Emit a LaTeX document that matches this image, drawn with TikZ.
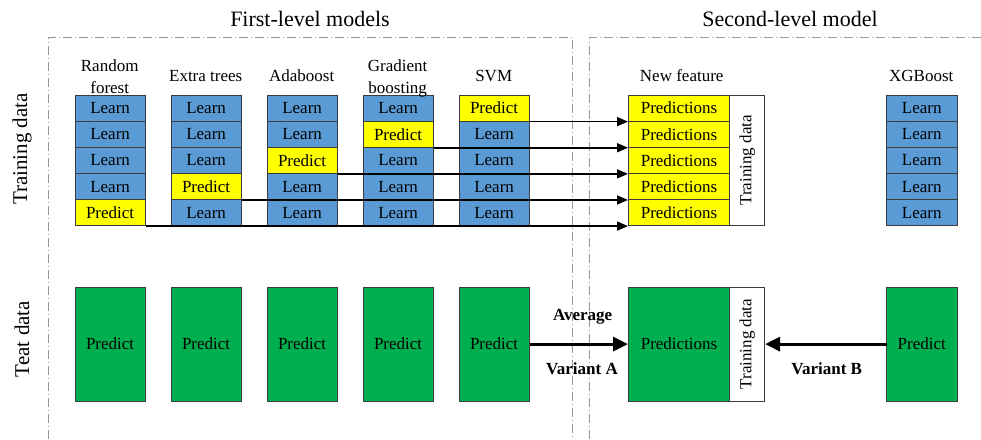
\documentclass[tikz,border=0pt]{standalone}
\usepackage{fontspec}
\setmainfont{Liberation Serif}
\usetikzlibrary{arrows.meta}
\definecolor{learnblue}{RGB}{91,155,213}
\definecolor{predyellow}{RGB}{255,255,0}
\definecolor{testgreen}{RGB}{0,176,80}
\definecolor{edgegray}{RGB}{60,60,60}
\definecolor{framegray}{RGB}{150,150,150}
\newcommand\bodyfont{\fontsize{17}{21.6}\selectfont}
\newcommand\titlefont{\fontsize{22}{26}\selectfont}
\begin{document}
\begin{tikzpicture}[x=1pt,y=-1pt,
  cell/.style={draw=edgegray, line width=0.8pt, minimum width=70pt,
    minimum height=26.12pt, inner sep=0pt, anchor=north west, font=\bodyfont},
  learn/.style={cell, fill=learnblue},
  guess/.style={cell, fill=predyellow},
  testbox/.style={cell, fill=testgreen, minimum height=114pt},
  frame/.style={draw=framegray, line width=0.7pt,
    dash pattern=on 9pt off 3pt on 1pt off 3pt},
  thinarrow/.style={draw=black, line width=1.6pt,
    -{Triangle[length=11pt,width=9pt]}},
  thickarrow/.style={draw=black, line width=3.2pt,
    -{Triangle[length=15pt,width=14pt]}},
  coltitle/.style={anchor=base, font=\bodyfont, align=center, inner sep=0pt},
  sidetitle/.style={rotate=90, font=\fontsize{21}{24}\selectfont},
  varlabel/.style={font=\bodyfont\bfseries},
]
\useasboundingbox (0,0) rectangle (981,439);

% dash-dot frames of the two levels
\draw[frame] (48.3,439) -- (48.3,37.3) -- (572,37.3) -- (572,439);
\draw[frame] (589.7,439) -- (589.7,37.3) -- (981,37.3);

% headings
\node[anchor=base, font=\titlefont] (h1) at (310,26.7) {First-level models};
\node[anchor=base, font=\titlefont] (h2) at (790,26.7) {Second-level model};
\node[sidetitle] (s1) at (22,149) {Training data};
\node[sidetitle] (s2) at (22,339) {Teat data};

% first-level models: five folds each, one fold predicted
\foreach \c/\x in {1/74.7,2/170.7,3/266.7,4/362.7,5/458.7} {
  \pgfmathtruncatemacro\held{6-\c}
  \foreach \r in {1,...,5} {
    \ifnum\r=\held
      \node[guess] (m\c r\r) at (\x,{94.7+(\r-1)*26.12}) {Predict};
    \else
      \node[learn] (m\c r\r) at (\x,{94.7+(\r-1)*26.12}) {Learn};
    \fi
  }
  \node[testbox] (t\c) at (\x,286.7) {Predict};
}

% column headings (two-line ones sit on the baseline of their last line)
\node[coltitle] (c1) at (109.7,93.2) {Random\\forest};
\node[coltitle] (c2) at (205.7,81.7) {Extra trees};
\node[coltitle] (c3) at (301.7,81.7) {Adaboost};
\node[coltitle] (c4) at (397.7,93.2) {Gradient\\boosting};
\node[coltitle] (c5) at (493.7,81.7) {SVM};
\node[coltitle] (c6) at (681.7,81.7) {New feature};
\node[coltitle] (c7) at (921.3,81.7) {XGBoost};

% second level: new feature built from the out-of-fold predictions
\foreach \r in {1,...,5} {
  \node[guess, minimum width=101.3pt] (p\r) at (628,{94.7+(\r-1)*26.12}) {Predictions};
  \node[learn, minimum width=70.7pt] (x\r) at (886,{94.7+(\r-1)*26.12}) {Learn};
}
\node[cell, fill=white, minimum width=35pt, minimum height=130.6pt] (td) at (729.3,94.7) {};
\node[rotate=90, font=\bodyfont] (tdl) at (td.center) {Training data};

\node[testbox, minimum width=101.3pt] (tp) at (628,286.7) {Predictions};
\node[cell, fill=white, minimum width=35pt, minimum height=114pt] (ttd) at (729.3,286.7) {};
\node[rotate=90, font=\bodyfont] (ttdl) at (ttd.center) {Training data};
\node[testbox, minimum width=70.7pt] (tx) at (886,286.7) {Predict};

% out-of-fold predictions feed the new feature
\foreach \c in {1,...,5} {
  \pgfmathtruncatemacro\held{6-\c}
  \draw[thinarrow] (m\c r\held.south east) -- (p\held.south west);
}

% test data paths
\draw[thickarrow] (t5.east) -- (tp.west);
\draw[thickarrow, line cap=round] (tx.west) -- (ttd.east);
\node[varlabel] (va0) at (582.7,316.7) {Average};
\node[varlabel] (va) at (582,369) {Variant A};
\node[varlabel] (vb) at (826.7,369) {Variant B};
\end{tikzpicture}
\end{document}
